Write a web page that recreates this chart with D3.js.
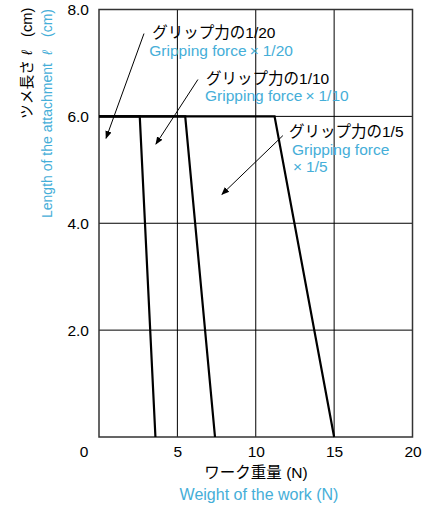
<!DOCTYPE html>
<html>
<head>
<meta charset="utf-8">
<script src="https://cdn.jsdelivr.net/npm/d3@7"></script>
<style>
  body { margin: 0; background: #fff; }
  svg text { font-family: Arial, "Liberation Sans", "Noto Sans CJK JP", sans-serif; }
</style>
</head>
<body>
<div id="chart"></div>
<script>
// --- data ---
const ratios = ["1/20", "1/10", "1/5"];
// each curve: flat at 6.0 cm up to topX, then falls to 0 at bottomX
const topX = [2.6, 5.5, 11.2];
const bottomX = [3.6, 7.4, 15.0];
const flatY = 6.0;
const xTicks = [5, 10, 15, 20];
const yTicks = [2, 4, 6, 8];

// annotation texts and arrows (in data units)
const labelJa = ["グリップ力の1/20", "グリップ力の1/10", "グリップ力の1/5"];
const labelPos = [[3.4, 7.46], [6.83, 6.615], [12.12, 5.605]];
const arrowFrom = [[2.87, 7.55], [6.31, 6.69], [11.73, 5.64]];
const arrowTo = [[0.45, 5.59], [3.63, 5.48], [7.84, 4.54]];

const blue = "#45aed8";
const W = 434, H = 506;
const margin = { left: 99, top: 9.5, right: 21.5, bottom: 69 };

const svg = d3.select("#chart").append("svg")
    .attr("width", W)
    .attr("height", H);

const x = d3.scaleLinear().domain([0, 20]).range([margin.left, W - margin.right]);
const y = d3.scaleLinear().domain([0, 8]).range([H - margin.bottom, margin.top]);

svg.append("defs").append("marker")
    .attr("id", "arrow")
    .attr("viewBox", "0 0 10 10")
    .attr("refX", 9).attr("refY", 5)
    .attr("markerWidth", 8).attr("markerHeight", 8)
    .attr("markerUnits", "userSpaceOnUse")
    .attr("orient", "auto")
    .append("path")
    .attr("d", "M0,1 L10,5 L0,9 Z")
    .attr("fill", "#000");

// grid lines
const grid = svg.append("g");
grid.selectAll("line.v").data(xTicks.slice(0, -1)).enter().append("line")
    .attr("x1", d => x(d)).attr("x2", d => x(d))
    .attr("y1", y(0)).attr("y2", y(8))
    .attr("stroke", "#000").attr("stroke-width", 1);
grid.selectAll("line.h").data(yTicks.slice(0, -1)).enter().append("line")
    .attr("x1", x(0)).attr("x2", x(20))
    .attr("y1", d => y(d)).attr("y2", d => y(d))
    .attr("stroke", "#000").attr("stroke-width", 1);

// frame
svg.append("rect")
    .attr("x", x(0)).attr("y", y(8))
    .attr("width", x(20) - x(0)).attr("height", y(0) - y(8))
    .attr("fill", "none").attr("stroke", "#333").attr("stroke-width", 1.5);

// curves
const line = d3.line().x(d => x(d[0])).y(d => y(d[1]));
ratios.forEach((r, i) => {
    svg.append("path")
        .attr("d", line([[0, flatY], [topX[i], flatY], [bottomX[i], 0]]))
        .attr("fill", "none")
        .attr("stroke", "#000")
        .attr("stroke-width", 2.2);
});

// axes (labels only)
const xAxis = svg.append("g")
    .attr("transform", `translate(0,${y(0)})`)
    .call(d3.axisBottom(x).tickValues(xTicks).tickSize(0).tickPadding(9));
const yAxis = svg.append("g")
    .attr("transform", `translate(${x(0)},0)`)
    .call(d3.axisLeft(y).tickValues(yTicks).tickFormat(d3.format(".1f")).tickSize(0).tickPadding(10));
[xAxis, yAxis].forEach(a => {
    a.select(".domain").remove();
    a.selectAll("text").attr("font-size", 15.5).attr("fill", "#000")
        .attr("font-family", "Arial, 'Liberation Sans', sans-serif");
});
svg.append("text")
    .attr("x", x(0) - 15).attr("y", y(0) + 20)
    .attr("text-anchor", "middle")
    .attr("font-size", 15.5)
    .text("0");

// axis titles
svg.append("text")
    .attr("x", 256).attr("y", 478)
    .attr("text-anchor", "middle").attr("font-size", 15.5)
    .text("ワーク重量 (N)");
svg.append("text")
    .attr("x", 259).attr("y", 500)
    .attr("text-anchor", "middle").attr("font-size", 16).attr("fill", blue)
    .text("Weight of the work (N)");

// y titles, rotated; pieces placed along the rotated baseline
function yTitle(bx, parts, size, color) {
    const t = svg.append("text")
        .attr("transform", `translate(${bx},0) rotate(-90)`)
        .attr("font-size", size).attr("fill", color);
    parts.forEach(p => {
        const s = t.append("tspan").attr("x", -p[1]).text(p[0]);
        if (p[0] === "ℓ") s.attr("font-style", "italic");
    });
}
yTitle(32, [["ツメ長さ", 119], ["ℓ", 55], ["(cm)", 37]], 14.75, "#000");
yTitle(51.5, [["Length of the attachment", 218], ["ℓ", 55], ["(cm)", 37]], 14, blue);

// annotations
const enDx = [-3, -1, 3];
labelJa.forEach((t, i) => {
    const px = x(labelPos[i][0]), py = y(labelPos[i][1]);
    svg.append("text")
        .attr("x", px).attr("y", py)
        .attr("font-size", 15.5)
        .text(t);
    // english lines: "Gripping force" + spaced × + ratio
    const lines = i === 2 ? [["Gripping force", null], ["", ratios[i]]] : [["Gripping force", ratios[i]]];
    lines.forEach((l, j) => {
        const tx = svg.append("text")
            .attr("x", px + enDx[i]).attr("y", py + 17.2 + j * 17.5)
            .attr("font-size", 15.5).attr("fill", blue);
        tx.append("tspan").text(l[0]);
        if (l[1]) {
            tx.append("tspan").attr("dx", l[0] ? 3 : 1).text("×");
            tx.append("tspan").attr("dx", 4).text(l[1]);
        }
    });
    svg.append("line")
        .attr("x1", x(arrowFrom[i][0])).attr("y1", y(arrowFrom[i][1]))
        .attr("x2", x(arrowTo[i][0])).attr("y2", y(arrowTo[i][1]))
        .attr("stroke", "#000").attr("stroke-width", 1)
        .attr("marker-end", "url(#arrow)");
});
</script>
</body>
</html>
